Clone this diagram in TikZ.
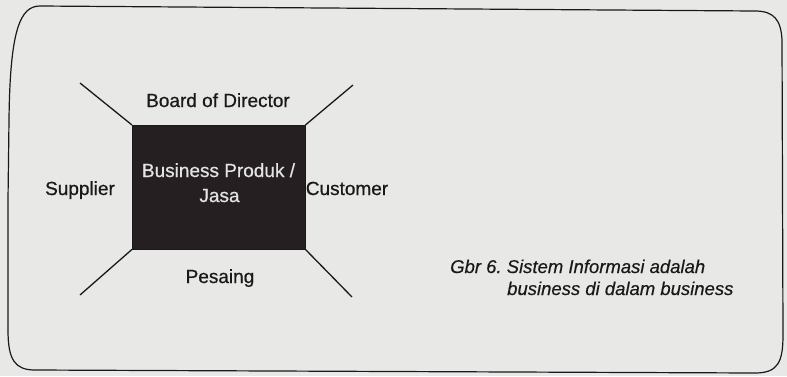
\documentclass[tikz,border=0pt]{standalone}
\usepackage{fontspec}
\setmainfont{Liberation Sans}
\frenchspacing
\definecolor{bgc}{RGB}{232,233,231}
\definecolor{boxc}{RGB}{38,31,33}
\definecolor{inkc}{RGB}{25,25,25}
\definecolor{boxtextc}{RGB}{228,228,228}
\begin{document}
\begin{tikzpicture}[x=1pt,y=-1pt,
  lbl/.style={font=\fontsize{19}{22}\selectfont\addfontfeature{FakeBold=0.6}, inner sep=0pt, anchor=base, text=inkc},
  inlbl/.style={lbl, text=boxtextc},
  captext/.style={font=\fontsize{18.5}{22}\selectfont\itshape\addfontfeature{FakeBold=0.4}, inner sep=0pt, anchor=base west, text=inkc},
  frame/.style={draw=inkc, line width=1.2pt},
  spoke/.style={draw=inkc, line width=1.3pt},
  core/.style={draw=inkc, fill=boxc, minimum width=173, minimum height=124, inner sep=0pt, anchor=north west}]
\fill[bgc] (0,0) rectangle (787,376);
\useasboundingbox (0,0) rectangle (787,376);
% outer frame
\draw[frame] (8,200) -- (9,120) .. controls (10,30) and (20,6) .. (40,6)
  -- (755,11) .. controls (774,11) and (781,20) .. (782,40)
  -- (783,335) .. controls (783,362) and (778,373) .. (755,373)
  -- (35,370) .. controls (15,370) and (8,360) .. (8,330) -- cycle;
% central box
\node[core] (box) at (132,125) {};
\node[inlbl] (b1) at (218.5,177) {Business Produk /};
\node[inlbl] (b2) at (219.5,202) {Jasa};
% spokes
\coordinate (tl) at (80,83);
\coordinate (tr) at (353,85);
\coordinate (bl) at (80,295);
\coordinate (br) at (352,297);
\draw[spoke] (box.north west) -- (tl);
\draw[spoke] (box.north east) -- (tr);
\draw[spoke] (box.south west) -- (bl);
\draw[spoke] (box.south east) -- (br);
% labels
\node[lbl] (bod) at (218,107) {Board of Director};
\node[lbl] (sup) at (80,195) {Supplier};
\node[lbl] (cus) at (347,195) {Customer};
\node[lbl] (pes) at (220,283) {Pesaing};
% caption
\node[captext] (c1) at (450,273) {Gbr 6. Sistem Informasi adalah};
\node[captext] (c2) at (507,295) {business di dalam business};
\end{tikzpicture}
\end{document}
